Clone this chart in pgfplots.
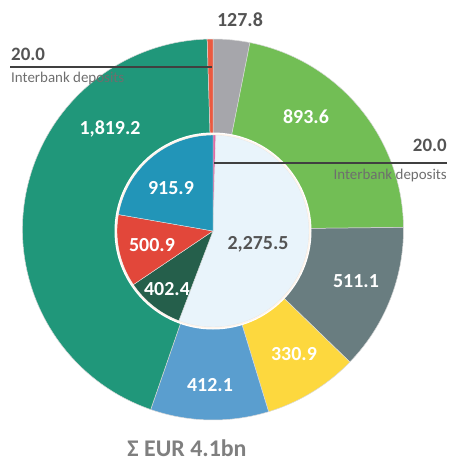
\documentclass[border=0pt]{standalone}
\usepackage{pgfplots}
\pgfplotsset{compat=1.18}
\usepackage{pgfplotstable}
\usepackage{fontspec}
\setmainfont{Carlito}

\definecolor{oTeal}{HTML}{20977A}
\definecolor{oGray}{HTML}{A6A6AB}
\definecolor{oGreen}{HTML}{72BE55}
\definecolor{oSlate}{HTML}{697D80}
\definecolor{oYellow}{HTML}{FDD83E}
\definecolor{oBlue}{HTML}{5A9ECF}
\definecolor{oRed}{HTML}{EA5A40}
\definecolor{iLight}{HTML}{E9F4FB}
\definecolor{iDark}{HTML}{255F4B}
\definecolor{iRed}{HTML}{E2473A}
\definecolor{iBlue}{HTML}{2295B8}
\definecolor{iPink}{HTML}{E06AA6}
\definecolor{txtDark}{HTML}{545454}
\definecolor{txtGray}{HTML}{6E6E6E}
\definecolor{sumGray}{HTML}{7F7F7F}

% outer ring, clockwise from 12 o'clock
\pgfplotstableread{
value color
127.8 oGray
893.6 oGreen
511.1 oSlate
330.9 oYellow
412.1 oBlue
1819.2 oTeal
20.0 oRed
}\outerdata

% inner pie, clockwise from 12 o'clock
\pgfplotstableread{
value color
20.0 iPink
2275.5 iLight
402.4 iDark
500.9 iRed
915.9 iBlue
}\innerdata

% compute start/end angles (clockwise degrees from top) for a table
\newcommand\computeangles[2]{%
  \gdef\tot{0}%
  \pgfplotstableforeachcolumnelement{value}\of#1\as\v{%
    \pgfmathsetmacro\tmp{\tot+\v}\xdef\tot{\tmp}}%
  \gdef\cum{0}%
  \pgfplotstableforeachcolumnelement{value}\of#1\as\v{%
    \pgfmathsetmacro\angS{\cum/\tot*360}%
    \pgfmathsetmacro\tmp{\cum+\v}\xdef\cum{\tmp}%
    \pgfmathsetmacro\angE{\cum/\tot*360}%
    \expandafter\xdef\csname #2S\pgfplotstablerow\endcsname{\angS}%
    \expandafter\xdef\csname #2E\pgfplotstablerow\endcsname{\angE}%
    \pgfplotstablegetelem{\pgfplotstablerow}{color}\of#1%
    \expandafter\xdef\csname #2C\pgfplotstablerow\endcsname{\pgfplotsretval}%
  }%
}
\computeangles{\outerdata}{out}
\computeangles{\innerdata}{inn}

\newcommand\lbl[1]{\fontsize{20}{24}\selectfont\bfseries #1}

\begin{document}
\begin{tikzpicture}
\begin{axis}[
  width=451bp, height=461bp, scale only axis,
  xmin=0, xmax=451, ymin=0, ymax=461, y dir=reverse,
  hide axis, clip=false,
]
% outer ring (full pie, inner pie drawn on top)
\pgfplotsinvokeforeach{0,...,6}{
  \edef\temp{\noexpand\fill[fill=\csname outC#1\endcsname, draw=white!85!black, line width=0.5pt]
    (axis cs:213,229.5) -- ++({90-\csname outS#1\endcsname}:190.5bp)
    arc[start angle={90-\csname outS#1\endcsname}, end angle={90-\csname outE#1\endcsname}, radius=190.5bp] -- cycle;}
  \temp
}
% white ring around inner pie
\fill[white] (axis cs:213,231) circle[radius=98.5bp];
\pgfplotsinvokeforeach{0,...,4}{
  \edef\temp{\noexpand\fill[fill=\csname innC#1\endcsname, draw=white!90!black, line width=0.4pt]
    (axis cs:213,231) -- ++({90-\csname innS#1\endcsname}:96bp)
    arc[start angle={90-\csname innS#1\endcsname}, end angle={90-\csname innE#1\endcsname}, radius=96bp] -- cycle;}
  \temp
}
\draw[white!92!orange, line width=1.2pt] (axis cs:213,231) circle[radius=96.8bp];

% annotation lines
\draw[black!75, line width=1.1pt] (axis cs:10,67) -- (axis cs:212,67);
\draw[black!75, line width=1.1pt] (axis cs:214,163) -- (axis cs:447,163);

% outer labels
\node[text=txtDark, anchor=west, inner sep=0pt] at (axis cs:11,54) {\fontsize{19}{22}\selectfont\bfseries 20.0};
\node[text=txtGray, anchor=west, inner sep=0pt] at (axis cs:11,78.5) {\fontsize{15}{18}\selectfont Interbank deposits};
\node[text=txtDark, anchor=east, inner sep=0pt] at (axis cs:447,145) {\fontsize{19}{22}\selectfont\bfseries 20.0};
\node[text=txtGray, anchor=east, inner sep=0pt] at (axis cs:447,175.5) {\fontsize{15}{18}\selectfont Interbank deposits};
\node[text=txtDark, inner sep=0pt] at (axis cs:240,20) {\lbl{127.8}};

% values in slices
\node[text=white, inner sep=0pt] at (axis cs:306,117) {\lbl{893.6}};
\node[text=white, inner sep=0pt] at (axis cs:356,281) {\lbl{511.1}};
\node[text=white, inner sep=0pt] at (axis cs:294,354) {\lbl{330.9}};
\node[text=white, inner sep=0pt] at (axis cs:210,385) {\lbl{412.1}};
\node[text=white, inner sep=0pt] at (axis cs:110,129) {\lbl{1,819.2}};
\node[text=white, inner sep=0pt] at (axis cs:171,188) {\lbl{915.9}};
\node[text=white, inner sep=0pt] at (axis cs:152,245) {\lbl{500.9}};
\node[text=white, inner sep=0pt] at (axis cs:167,289) {\lbl{402.4}};
\node[text=txtDark, inner sep=0pt] at (axis cs:258,244) {\lbl{2,275.5}};

% total
\node[text=sumGray, anchor=south, inner sep=0pt] at (axis cs:187,456.5) {\fontsize{24}{28}\selectfont\bfseries Σ EUR 4.1bn};
\end{axis}
\pgfresetboundingbox
\path (0,0) rectangle (451bp,461bp);
\end{tikzpicture}
\end{document}
